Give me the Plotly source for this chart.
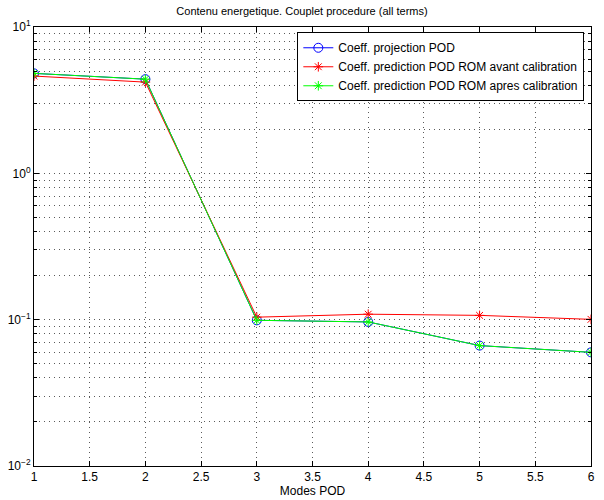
import plotly.graph_objects as go

modes = [1, 2, 3, 4, 5, 6]
proj_pod = [4.82, 4.40, 0.099, 0.0965, 0.0665, 0.0598]
rom_avant = [4.62, 4.20, 0.104, 0.109, 0.107, 0.1005]
rom_apres = [4.82, 4.40, 0.099, 0.0965, 0.0665, 0.0598]

names = ["Coeff. projection POD",
         "Coeff. prediction POD ROM avant calibration",
         "Coeff. prediction POD ROM apres calibration"]

y_tickvals = [0.01, 0.1, 1, 10]
y_ticktext = ["10<sup>−2</sup>", "10<sup>−1</sup>", "10<sup>0</sup>", "10<sup>1</sup>"]
y_minorvals = [m * d for d in [0.01, 0.1, 1] for m in range(2, 10)]

font = "Liberation Sans, Arial, Helvetica, sans-serif"

fig = go.Figure()
fig.add_trace(go.Scatter(x=modes, y=proj_pod, mode="lines+markers", name=names[0],
                         line=dict(color="rgb(0,0,255)", width=1),
                         marker=dict(symbol="circle-open", size=9,
                                     line=dict(color="rgb(0,0,255)", width=1))))
fig.add_trace(go.Scatter(x=modes, y=rom_avant, mode="lines+markers", name=names[1],
                         line=dict(color="rgb(255,0,0)", width=1),
                         marker=dict(symbol="asterisk-open", size=8, color="rgb(255,0,0)",
                                     line=dict(color="rgb(255,0,0)", width=1))))
fig.add_trace(go.Scatter(x=modes, y=rom_apres, mode="lines+markers", name=names[2],
                         line=dict(color="rgb(0,255,0)", width=1),
                         marker=dict(symbol="asterisk-open", size=8, color="rgb(0,255,0)",
                                     line=dict(color="rgb(0,255,0)", width=1))))

gridc = "rgb(90,90,90)"
dash = "1px,4px"
fig.update_layout(
    width=604, height=500,
    margin=dict(l=34, r=13, t=27, b=34),
    paper_bgcolor="white", plot_bgcolor="white",
    font=dict(family=font, size=12, color="black"),
    title=dict(text="Contenu energetique. Couplet procedure (all terms)",
               x=0.5, xanchor="center", y=0.985, yanchor="top",
               font=dict(size=11)),
    showlegend=True,
    legend=dict(x=0.988, xanchor="right", y=0.988, yanchor="top",
                bgcolor="white", bordercolor="black", borderwidth=1,
                font=dict(size=12), tracegroupgap=0),
    xaxis=dict(range=[1, 6], dtick=0.5, tick0=1, automargin=False,
               showline=True, linecolor="black", linewidth=1, mirror="ticks",
               ticks="inside", ticklen=5, tickcolor="black",
               showgrid=True, gridcolor=gridc, griddash=dash, gridwidth=1,
               zeroline=False, tickfont=dict(size=12),
               title=dict(text="Modes POD", standoff=2, font=dict(size=12))),
    yaxis=dict(type="log", range=[-2, 1], automargin=False,
               tickmode="array", tickvals=y_tickvals, ticktext=y_ticktext,
               showline=True, linecolor="black", linewidth=1, mirror="ticks",
               ticks="inside", ticklen=5, tickcolor="black",
               showgrid=True, gridcolor=gridc, griddash=dash, gridwidth=1,
               zeroline=False, tickfont=dict(size=12),
               minor=dict(tickmode="array", tickvals=y_minorvals,
                          ticks="inside", ticklen=3, tickcolor="black",
                          showgrid=True, gridcolor=gridc, griddash=dash, gridwidth=1)),
)

fig.write_html("out.html")
